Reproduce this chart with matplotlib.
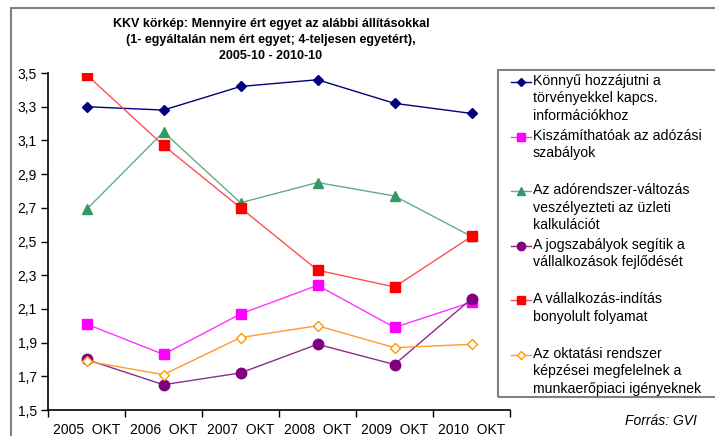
import matplotlib
matplotlib.use("Agg")
import matplotlib.pyplot as plt
from matplotlib.lines import Line2D
from matplotlib.patches import Rectangle
from matplotlib.ticker import FuncFormatter, FixedLocator

plt.rcParams['font.family'] = ['Liberation Sans', 'DejaVu Sans']

categories = ["2005  OKT", "2006  OKT", "2007  OKT", "2008  OKT", "2009  OKT", "2010  OKT"]
s_konnyu = [3.30, 3.28, 3.42, 3.46, 3.32, 3.26]
s_kiszam = [2.01, 1.83, 2.07, 2.24, 1.99, 2.14]
s_adorend = [2.69, 3.15, 2.73, 2.85, 2.77, 2.53]
s_jogszab = [1.80, 1.65, 1.72, 1.89, 1.77, 2.16]
s_vallalk = [3.49, 3.07, 2.70, 2.33, 2.23, 2.53]
s_oktatas = [1.79, 1.71, 1.93, 2.00, 1.87, 1.89]

labels = [
    "Könnyű hozzájutni a\ntörvényekkel kapcs.\ninformációkhoz",
    "Kiszámíthatóak az adózási\nszabályok",
    "Az adórendszer-változás\nveszélyezteti az üzleti\nkalkulációt",
    "A jogszabályok segítik a\nvállalkozások fejlődését",
    "A vállalkozás-indítás\nbonyolult folyamat",
    "Az oktatási rendszer\nképzései megfelelnek a\nmunkaerőpiaci igényeknek",
]

styles = [
    dict(color="#000080", marker="D", ms=5, mfc="#000080", mec="#000080"),
    dict(color="#FF33FF", marker="s", ms=7.5, mfc="#FF00FF", mec="#FF00FF"),
    dict(color="#5FAF87", marker="^", ms=7, mfc="#339966", mec="#339966"),
    dict(color="#8B2E8B", marker="o", ms=7.5, mfc="#800080", mec="#800080"),
    dict(color="#FF5050", marker="s", ms=7.5, mfc="#FF0000", mec="#FF0000"),
    dict(color="#FF9933", marker="D", ms=5.5, mfc="white", mec="#FF9900"),
]
series = [s_konnyu, s_kiszam, s_adorend, s_jogszab, s_vallalk, s_oktatas]

W, H = 715, 436
fig = plt.figure(figsize=(W / 100, H / 100), dpi=100)

# outer frame
fig.patches.append(Rectangle((11 / W, -0.1), 1.2, (H - 8) / H + 0.1, transform=fig.transFigure,
                             fill=False, ec="#808080", lw=1.5))

ax = fig.add_axes([48 / W, (H - 410) / H, (510 - 48) / W, (410 - 73) / H])
x = list(range(len(categories)))
for ys, st in zip(series, styles):
    ax.plot(x, ys, lw=1.0, color=st["color"], marker=st["marker"], ms=st["ms"],
            mfc=st["mfc"], mec=st["mec"], mew=1.0)

ax.set_xlim(-0.5, len(categories) - 0.5)
ax.set_ylim(1.5, 3.5)
ax.set_yticks([1.5 + 0.2 * i for i in range(11)])
ax.yaxis.set_major_formatter(FuncFormatter(lambda v, p: f"{v:.1f}".replace(".", ",")))
ax.xaxis.set_major_locator(FixedLocator([i - 0.5 for i in range(len(categories) + 1)]))
ax.set_xticklabels([])
ax.set_xticks(x, minor=True)
ax.set_xticklabels(categories, minor=True)
ax.tick_params(axis="x", which="minor", length=0, pad=9, labelsize=10)
ax.tick_params(axis="x", which="major", length=5, direction="out", width=1)
ax.tick_params(axis="y", length=5, direction="out", width=1, labelsize=10, pad=3)
for sp in ["top", "right"]:
    ax.spines[sp].set_visible(False)
for sp in ["left", "bottom"]:
    ax.spines[sp].set_linewidth(1.2)
ax.patch.set_alpha(0)

fig.text(271 / W, 1 - 18 / H, "KKV körkép: Mennyire ért egyet az alábbi állításokkal\n"
         "(1- egyáltalán nem ért egyet; 4-teljesen egyetért),\n2005-10 - 2010-10",
         ha="center", va="top", fontsize=9, fontweight="bold", linespacing=1.45,
         transform=fig.transFigure)

# legend box
fig.patches.append(Rectangle((498 / W, (H - 397) / H), 0.5, (397 - 70) / H, transform=fig.transFigure,
                             fill=False, ec="#808080", lw=1.5))
y0 = 82
for i, (lab, st) in enumerate(zip(labels, styles)):
    yy = 1 - (y0 + i * 54.6) / H
    fig.add_artist(Line2D([511 / W, 531 / W], [yy, yy], transform=fig.transFigure,
                          color=st["color"], lw=1.0))
    fig.add_artist(Line2D([521 / W], [yy], transform=fig.transFigure, marker=st["marker"],
                          ms=st["ms"] * 0.8, mfc=st["mfc"], mec=st["mec"], mew=1.0, lw=0))
    fig.text(533 / W, yy + 8 / H, lab, ha="left", va="top", fontsize=10.2, linespacing=1.3)

fig.text(697 / W, 1 - 421 / H, "Forrás: GVI", ha="right", va="center", fontsize=10, style="italic")

fig.savefig("out.png", dpi=100)
